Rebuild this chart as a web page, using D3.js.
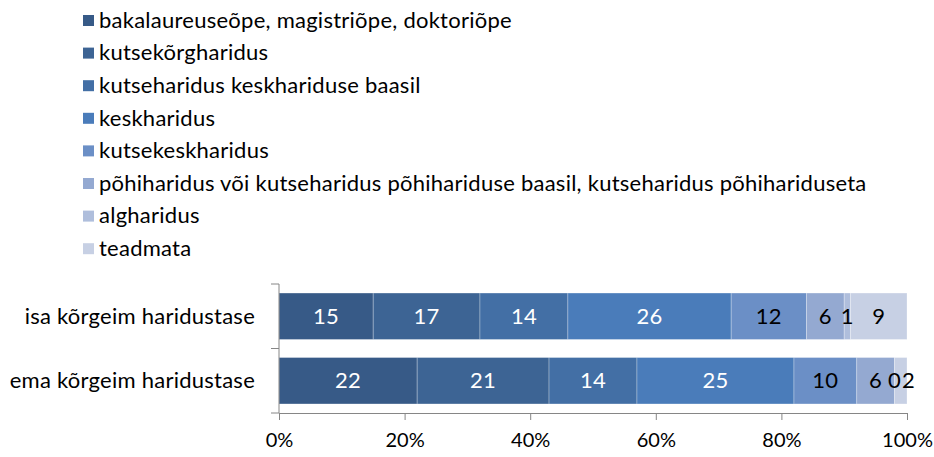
<!DOCTYPE html>
<html><head><meta charset="utf-8">
<script src="https://cdn.jsdelivr.net/npm/d3@7"></script>
<style>body{margin:0;background:#fff}svg{display:block}text{font-family:Lato,"Open Sans",sans-serif;letter-spacing:0.25px}</style>
</head><body><svg id="c" width="934" height="457"></svg>
<script>
const seriesNames = ["bakalaureuseõpe, magistriõpe, doktoriõpe","kutsekõrgharidus","kutseharidus keskhariduse baasil","keskharidus","kutsekeskharidus","põhiharidus või kutseharidus põhihariduse baasil, kutseharidus põhihariduseta","algharidus","teadmata"];
const categories = ["isa kõrgeim haridustase","ema kõrgeim haridustase"];
const isaValues = [15,17,14,26,12,6,1,9];
const emaValues = [22,21,14,25,10,6,0,2];
const colors = ["#375a87","#3d6494","#436fa5","#4a7cba","#6b8fc6","#94a9d1","#afbedc","#c7d0e4"];
const labelColors = ["#fff","#fff","#fff","#fff","#000","#000","#000","#000"];
const tickValues = [0,0.2,0.4,0.6,0.8,1];

const svg = d3.select("#c");
const x = d3.scaleLinear().domain([0,1]).range([279,907]);
const y = d3.scaleBand().domain(categories).range([284,413]).paddingInner(0.28).paddingOuter(0.14);
const FS = 22;

// legend
const lg = svg.append("g");
seriesNames.forEach((n,i)=>{
  const yy = 20 + i*32.6;
  lg.append("rect").attr("x",83).attr("y",yy-5).attr("width",11).attr("height",11).attr("fill",colors[i]);
  lg.append("text").attr("x",99).attr("y",yy).attr("dy","0.35em").attr("font-size",FS).attr("fill","#000").text(n);
});

const barG = svg.append("g"), labG = svg.append("g");
const rows = [isaValues, emaValues];
rows.forEach((vals,ri)=>{
  const tot = d3.sum(vals);
  let acc = 0;
  const labels = [];
  vals.forEach((v,i)=>{
    const x0 = x(acc/tot), x1 = x((acc+v)/tot);
    acc += v;
    barG.append("rect").attr("x",x0).attr("y",y(categories[ri])).attr("width",Math.max(0,x1-x0)).attr("height",y.bandwidth())
      .attr("fill",colors[i]).attr("stroke","rgba(255,255,255,0.35)").attr("stroke-width",0.8);
    const t = labG.append("text").attr("x",(x0+x1)/2).attr("y",y(categories[ri])+y.bandwidth()/2).attr("dy","0.35em")
      .attr("text-anchor","middle").attr("font-size",FS).attr("fill",labelColors[i]).text(v);
    labels.push({t, c:(x0+x1)/2, w:t.node().getComputedTextLength()});
  });
  for (let i=1;i<labels.length;i++){
    const a=labels[i-1], b=labels[i];
    const need=(a.w+b.w)/2+1, d=b.c-a.c;
    if (d<need){ b.c += need-d; }
  }
  labels.forEach(l=>l.t.attr("x",l.c));
});

// y axis
const ya = svg.append("g");
ya.append("line").attr("x1",279).attr("x2",279).attr("y1",284).attr("y2",413).attr("stroke","#868686");
[284,348.5,413].forEach(t=>ya.append("line").attr("x1",271).attr("x2",279).attr("y1",t).attr("y2",t).attr("stroke","#868686"));
categories.forEach(c=>ya.append("text").attr("x",255).attr("y",y(c)+y.bandwidth()/2).attr("dy","0.35em").attr("text-anchor","end").attr("font-size",FS).text(c));

// x axis
const xa = svg.append("g").attr("transform","translate(0,413)")
  .call(d3.axisBottom(x).tickValues(tickValues).tickFormat(d3.format(".0%")).tickSizeInner(7).tickSizeOuter(0).tickPadding(13));
xa.select(".domain").attr("stroke","#868686");
xa.selectAll(".tick line").attr("stroke","#868686");
xa.selectAll(".tick text").attr("font-size",20).attr("fill","#000").attr("font-family","Lato").style("letter-spacing","0px");
</script></body></html>
